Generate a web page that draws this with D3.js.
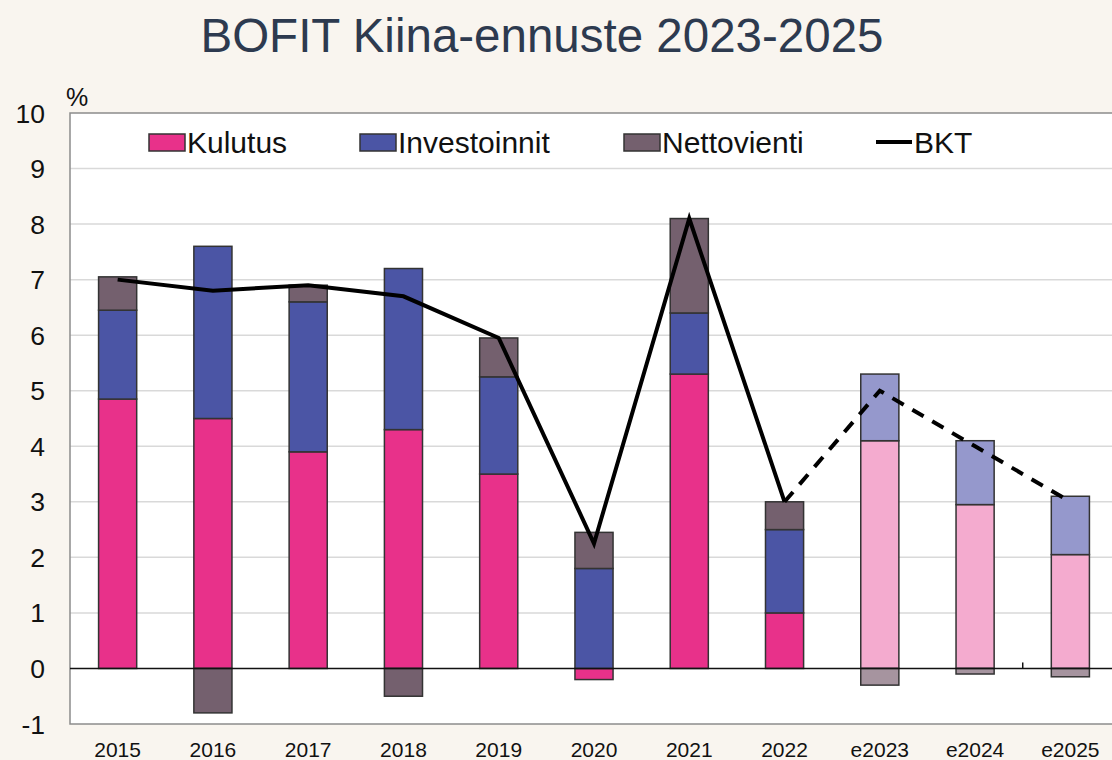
<!DOCTYPE html>
<html>
<head>
<meta charset="utf-8">
<script src="https://cdn.jsdelivr.net/npm/d3@7"></script>
<style>
  body { margin: 0; background: #f9f5ef; }
  svg { display: block; font-family: "Liberation Sans", Arial, sans-serif; }
</style>
</head>
<body>
<svg></svg>
<script>
const width = 1112;
const height = 760;

const years = ["2015", "2016", "2017", "2018", "2019", "2020", "2021", "2022", "e2023", "e2024", "e2025"];
const kulutus = [4.85, 4.5, 3.9, 4.3, 3.5, -0.2, 5.3, 1.0, 4.1, 2.95, 2.05];
const investoinnit = [1.6, 3.1, 2.7, 2.9, 1.75, 1.8, 1.1, 1.5, 1.2, 1.15, 1.05];
const nettovienti = [0.6, -0.8, 0.3, -0.5, 0.7, 0.65, 1.7, 0.5, -0.3, -0.1, -0.15];
const bkt = [7.0, 6.8, 6.9, 6.7, 5.95, 2.25, 8.1, 3.0, 5.0, 4.0, 3.0];
const forecastYears = ["e2023", "e2024", "e2025"];
const yTicks = [-1, 0, 1, 2, 3, 4, 5, 6, 7, 8, 9, 10];

const seriesKeys = ["Kulutus", "Investoinnit", "Nettovienti"];
const colors = { Kulutus: "#e8318a", Investoinnit: "#4b55a5", Nettovienti: "#74606e" };
const lightColors = { Kulutus: "#f4abcf", Investoinnit: "#9598cc", Nettovienti: "#a6949f" };

const margin = { left: 70, right: -6, top: 113, bottom: 36 };

const svg = d3.select("svg")
  .attr("width", width)
  .attr("height", height);

svg.append("rect")
  .attr("width", width)
  .attr("height", height)
  .attr("fill", "#f9f5ef");

const x = d3.scaleBand()
  .domain(years)
  .range([margin.left, width - margin.right])
  .paddingInner(0.6)
  .paddingOuter(0.3);

const y = d3.scaleLinear()
  .domain([-1, 10])
  .range([height - margin.bottom, margin.top]);

// title
svg.append("text")
  .attr("x", 542)
  .attr("y", 52)
  .attr("text-anchor", "middle")
  .attr("font-size", 47.5)
  .attr("fill", "#2d3a4f")
  .text("BOFIT Kiina-ennuste 2023-2025");

// plot area
svg.append("rect")
  .attr("x", margin.left)
  .attr("y", y(10))
  .attr("width", width - margin.right - margin.left)
  .attr("height", y(-1) - y(10))
  .attr("fill", "#ffffff");

svg.append("g")
  .selectAll("line")
  .data(yTicks.filter(d => d > 0 && d < 10))
  .join("line")
  .attr("x1", margin.left)
  .attr("x2", width)
  .attr("y1", d => y(d))
  .attr("y2", d => y(d))
  .attr("stroke", "#d9d9d9")
  .attr("stroke-width", 1.5);

svg.append("rect")
  .attr("x", margin.left)
  .attr("y", y(10))
  .attr("width", width - margin.right - margin.left)
  .attr("height", y(-1) - y(10))
  .attr("fill", "none")
  .attr("stroke", "#8c8c8c")
  .attr("stroke-width", 1.5);

// y tick labels
svg.append("g")
  .selectAll("text")
  .data(yTicks)
  .join("text")
  .attr("x", 45)
  .attr("y", d => y(d))
  .attr("dy", "0.36em")
  .attr("text-anchor", "end")
  .attr("font-size", 26.5)
  .attr("fill", "#111")
  .text(d => d);

svg.append("text")
  .attr("x", 66)
  .attr("y", 106)
  .attr("font-size", 25)
  .attr("fill", "#111")
  .text("%");

// stacked bars
const table = years.map((yr, i) => ({
  year: yr,
  Kulutus: kulutus[i],
  Investoinnit: investoinnit[i],
  Nettovienti: nettovienti[i]
}));

const stack = d3.stack()
  .keys(seriesKeys)
  .offset(d3.stackOffsetDiverging);

const stacked = stack(table);

svg.append("g")
  .selectAll("g")
  .data(stacked)
  .join("g")
  .each(function(series) {
    d3.select(this).selectAll("rect")
      .data(series)
      .join("rect")
      .attr("x", d => x(d.data.year))
      .attr("width", x.bandwidth())
      .attr("y", d => y(Math.max(d[0], d[1])))
      .attr("height", d => Math.abs(y(d[0]) - y(d[1])))
      .attr("fill", d => forecastYears.includes(d.data.year) ? lightColors[series.key] : colors[series.key])
      .attr("stroke", "#333")
      .attr("stroke-width", 1.5);
  });

// zero line
svg.append("line")
  .attr("x1", margin.left)
  .attr("x2", width)
  .attr("y1", y(0))
  .attr("y2", y(0))
  .attr("stroke", "#111")
  .attr("stroke-width", 1.5);

svg.append("line")
  .attr("x1", x("e2025") - x.step() * x.paddingInner() / 2)
  .attr("x2", x("e2025") - x.step() * x.paddingInner() / 2)
  .attr("y1", y(0))
  .attr("y2", y(0) - 6)
  .attr("stroke", "#111")
  .attr("stroke-width", 1.5);

// BKT line
const points = years.map((yr, i) => ({ year: yr, value: bkt[i] }));
const line = d3.line()
  .x(d => x(d.year) + x.bandwidth() / 2)
  .y(d => y(d.value));

const solid = points.filter(d => !forecastYears.includes(d.year));
const dashed = points.filter(d => forecastYears.includes(d.year) || d.year === "2022");

svg.append("path")
  .attr("d", line(solid))
  .attr("fill", "none")
  .attr("stroke", "#000")
  .attr("stroke-width", 4);

svg.append("path")
  .attr("d", line(dashed))
  .attr("fill", "none")
  .attr("stroke", "#000")
  .attr("stroke-width", 4)
  .attr("stroke-dasharray", "13,10");

// x labels
svg.append("g")
  .selectAll("text")
  .data(years)
  .join("text")
  .attr("x", d => x(d) + x.bandwidth() / 2)
  .attr("y", 757)
  .attr("text-anchor", "middle")
  .attr("font-size", 21)
  .attr("fill", "#111")
  .text(d => d);

// legend
const legendItems = [
  { name: "Kulutus", x: 149, type: "rect" },
  { name: "Investoinnit", x: 360, type: "rect" },
  { name: "Nettovienti", x: 624, type: "rect" },
  { name: "BKT", x: 876, type: "line" }
];

const legend = svg.append("g").attr("transform", "translate(0,142)");

legendItems.forEach(function(item) {
  if (item.type === "rect") {
    legend.append("rect")
      .attr("x", item.x)
      .attr("y", -8)
      .attr("width", 36)
      .attr("height", 17)
      .attr("fill", colors[item.name])
      .attr("stroke", "#333")
      .attr("stroke-width", 1.5);
  } else {
    legend.append("line")
      .attr("x1", item.x)
      .attr("x2", item.x + 36)
      .attr("y1", 0)
      .attr("y2", 0)
      .attr("stroke", "#000")
      .attr("stroke-width", 4);
  }
  legend.append("text")
    .attr("x", item.x + 38)
    .attr("y", 0)
    .attr("dy", "0.36em")
    .attr("font-size", 30)
    .attr("fill", "#111")
    .text(item.name);
});
</script>
</body>
</html>
